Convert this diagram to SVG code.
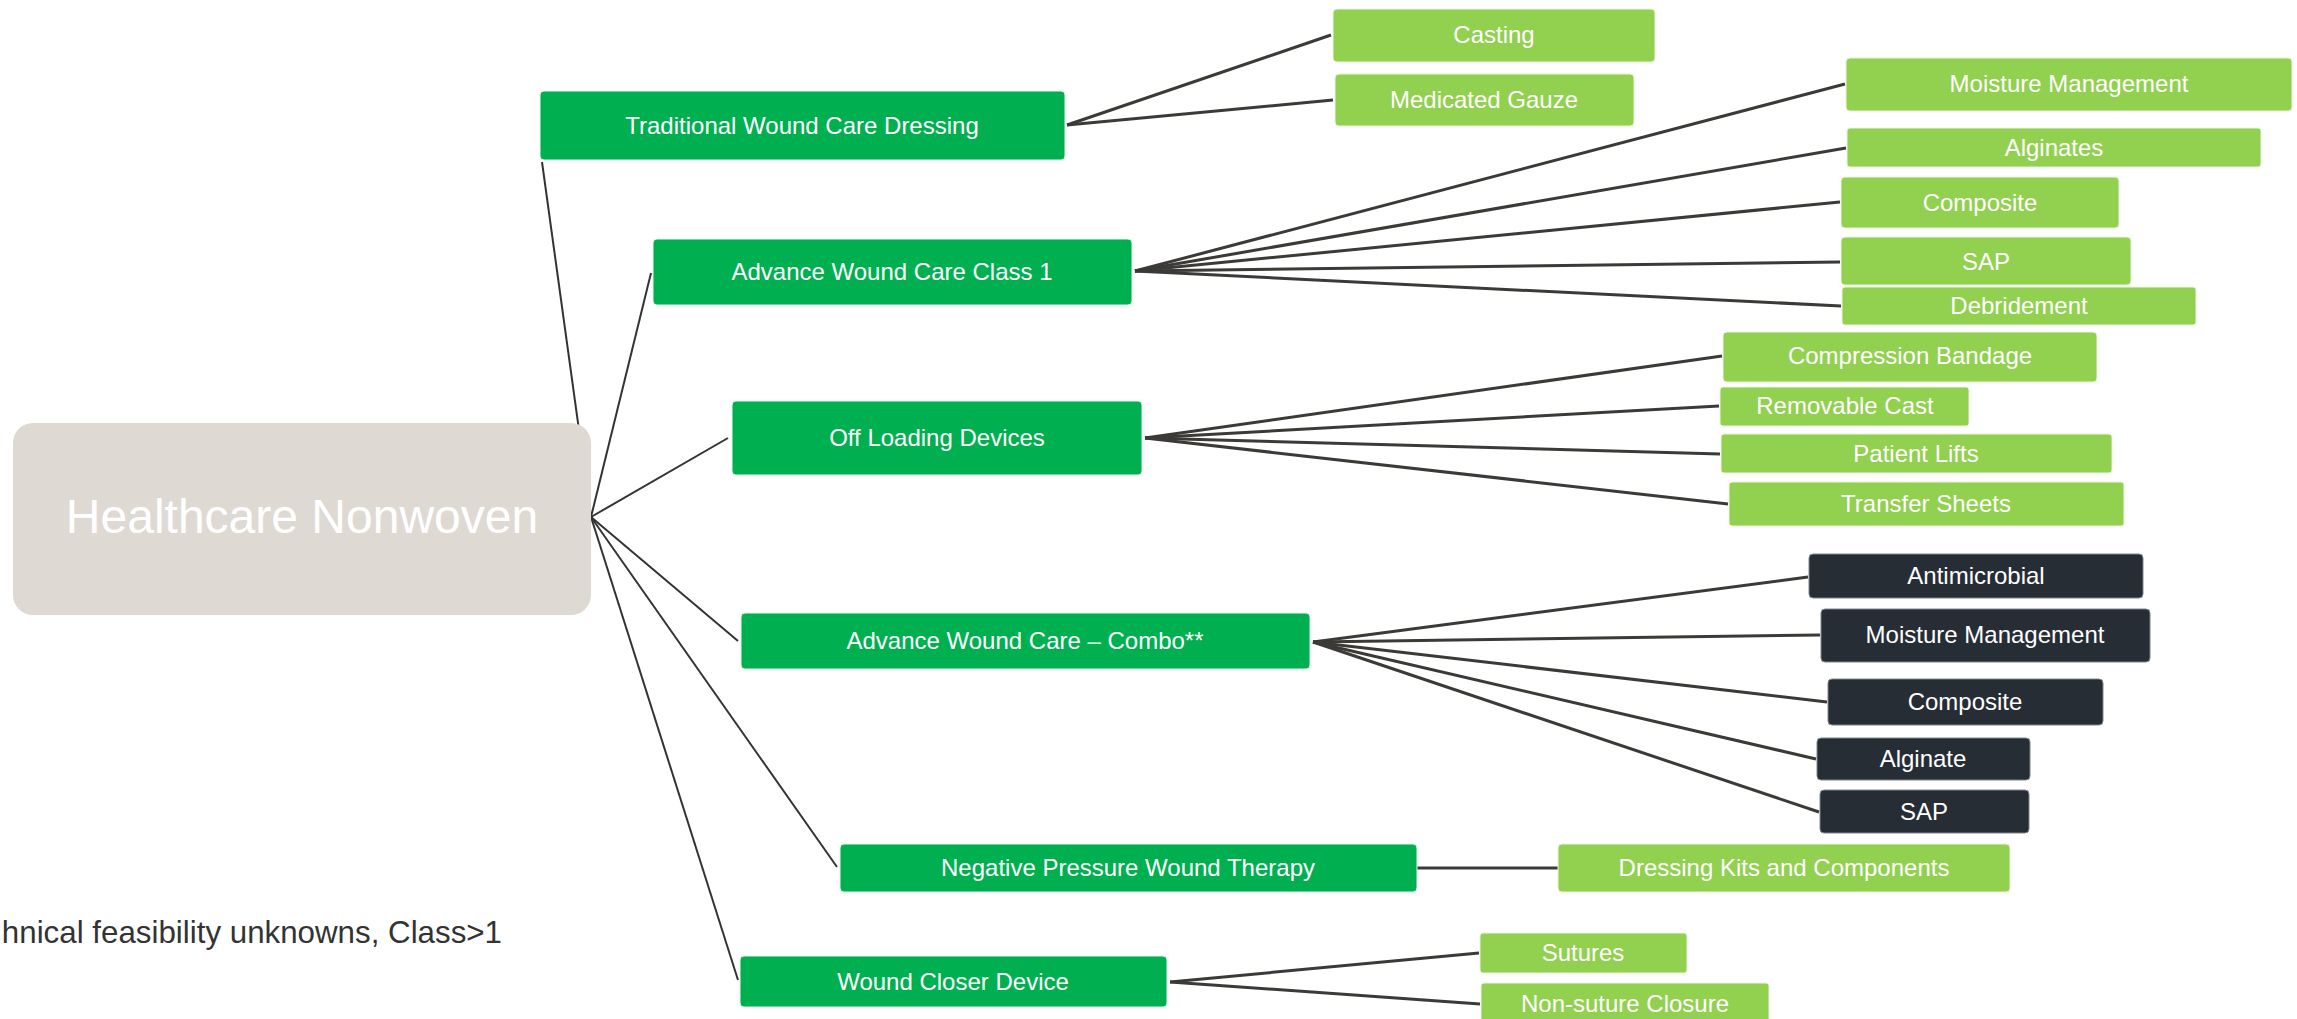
<svg xmlns="http://www.w3.org/2000/svg" width="2297" height="1019" viewBox="0 0 2297 1019">
<style>
.t{font-family:"Liberation Sans",Arial,sans-serif;font-size:24px;fill:#ffffff;text-anchor:middle}
.mid{fill:#00B050;stroke:#e6f5ea;stroke-width:1}
.leaf{fill:#92D050;stroke:#e9f5dc;stroke-width:1}
.dark{fill:#262D35;stroke:#80858b;stroke-width:1}
.c1{stroke:#333333;stroke-width:2;fill:none}
.c2{stroke:#3b3a36;stroke-width:3;fill:none}
</style>
<rect width="2297" height="1019" fill="#ffffff"/>
<g id="connectors">
<line class="c1" x1="591" y1="517" x2="542" y2="162"/>
<line class="c1" x1="591" y1="517" x2="651" y2="273"/>
<line class="c1" x1="591" y1="517" x2="728" y2="438"/>
<line class="c1" x1="591" y1="517" x2="738" y2="641"/>
<line class="c1" x1="591" y1="517" x2="837" y2="867"/>
<line class="c1" x1="591" y1="517" x2="738" y2="980"/>
<line class="c2" x1="1067" y1="125" x2="1331" y2="35"/>
<line class="c2" x1="1067" y1="125" x2="1333" y2="100"/>
<line class="c2" x1="1135" y1="271" x2="1845" y2="84"/>
<line class="c2" x1="1135" y1="271" x2="1846" y2="148"/>
<line class="c2" x1="1135" y1="271" x2="1840" y2="202"/>
<line class="c2" x1="1135" y1="271" x2="1840" y2="262"/>
<line class="c2" x1="1135" y1="271" x2="1841" y2="306"/>
<line class="c2" x1="1145" y1="438" x2="1722" y2="356"/>
<line class="c2" x1="1145" y1="438" x2="1719" y2="406"/>
<line class="c2" x1="1145" y1="438" x2="1720" y2="454"/>
<line class="c2" x1="1145" y1="438" x2="1728" y2="504"/>
<line class="c2" x1="1313" y1="642" x2="1808" y2="577"/>
<line class="c2" x1="1313" y1="642" x2="1820" y2="635"/>
<line class="c2" x1="1313" y1="642" x2="1827" y2="702"/>
<line class="c2" x1="1313" y1="642" x2="1816" y2="759"/>
<line class="c2" x1="1313" y1="642" x2="1819" y2="812"/>
<line class="c2" x1="1417" y1="868" x2="1558" y2="868"/>
<line class="c2" x1="1170" y1="982" x2="1479" y2="953"/>
<line class="c2" x1="1170" y1="982" x2="1480" y2="1004"/>
</g>
<g id="root">
<rect x="13" y="423" width="578" height="192" rx="20" fill="#DFD9D4"/>
<text x="302" y="533" font-family="Liberation Sans, Arial, sans-serif" font-size="48" fill="#ffffff" text-anchor="middle">Healthcare Nonwoven</text>
</g>
<g id="traditional"><rect class="mid" x="540" y="91" width="525" height="69" rx="4"/><text class="t" x="802" y="134">Traditional Wound Care Dressing</text></g>
<g id="awc1"><rect class="mid" x="653" y="239" width="479" height="66" rx="4"/><text class="t" x="892" y="280">Advance Wound Care Class 1</text></g>
<g id="offloading"><rect class="mid" x="732" y="401" width="410" height="74" rx="4"/><text class="t" x="937" y="446">Off Loading Devices</text></g>
<g id="combo"><rect class="mid" x="741" y="613" width="569" height="56" rx="4"/><text class="t" x="1025" y="649">Advance Wound Care – Combo**</text></g>
<g id="npwt"><rect class="mid" x="840" y="844" width="577" height="48" rx="4"/><text class="t" x="1128" y="876">Negative Pressure Wound Therapy</text></g>
<g id="wcd"><rect class="mid" x="740" y="956" width="427" height="51" rx="4"/><text class="t" x="953" y="990">Wound Closer Device</text></g>

<g id="casting"><rect class="leaf" x="1333" y="9" width="322" height="53" rx="4"/><text class="t" x="1494" y="43">Casting</text></g>
<g id="gauze"><rect class="leaf" x="1335" y="74" width="299" height="52" rx="4"/><text class="t" x="1484" y="108">Medicated Gauze</text></g>
<g id="moisture1"><rect class="leaf" x="1846" y="58" width="446" height="53" rx="4"/><text class="t" x="2069" y="92">Moisture Management</text></g>
<g id="alginates1"><rect class="leaf" x="1847" y="128" width="414" height="39" rx="3"/><text class="t" x="2054" y="156">Alginates</text></g>
<g id="composite1"><rect class="leaf" x="1841" y="177" width="278" height="51" rx="4"/><text class="t" x="1980" y="211">Composite</text></g>
<g id="sap1"><rect class="leaf" x="1841" y="237" width="290" height="48" rx="4"/><text class="t" x="1986" y="270">SAP</text></g>
<g id="debridement"><rect class="leaf" x="1842" y="287" width="354" height="38" rx="3"/><text class="t" x="2019" y="314">Debridement</text></g>
<g id="compression"><rect class="leaf" x="1723" y="332" width="374" height="50" rx="4"/><text class="t" x="1910" y="364">Compression Bandage</text></g>
<g id="removable"><rect class="leaf" x="1720" y="387" width="249" height="39" rx="3"/><text class="t" x="1845" y="414">Removable Cast</text></g>
<g id="lifts"><rect class="leaf" x="1721" y="434" width="391" height="39" rx="3"/><text class="t" x="1916" y="462">Patient Lifts</text></g>
<g id="sheets"><rect class="leaf" x="1729" y="482" width="395" height="44" rx="3"/><text class="t" x="1926" y="512">Transfer Sheets</text></g>
<g id="antimicrobial"><rect class="dark" x="1809" y="554" width="334" height="44" rx="4"/><text class="t" x="1976" y="584">Antimicrobial</text></g>
<g id="moisture2"><rect class="dark" x="1821" y="609" width="329" height="53" rx="4"/><text class="t" x="1985" y="643">Moisture Management</text></g>
<g id="composite2"><rect class="dark" x="1828" y="679" width="275" height="46" rx="4"/><text class="t" x="1965" y="710">Composite</text></g>
<g id="alginate2"><rect class="dark" x="1817" y="738" width="213" height="42" rx="4"/><text class="t" x="1923" y="767">Alginate</text></g>
<g id="sap2"><rect class="dark" x="1820" y="790" width="209" height="43" rx="4"/><text class="t" x="1924" y="820">SAP</text></g>
<g id="dressingkits"><rect class="leaf" x="1558" y="844" width="452" height="48" rx="4"/><text class="t" x="1784" y="876">Dressing Kits and Components</text></g>
<g id="sutures"><rect class="leaf" x="1480" y="933" width="207" height="40" rx="3"/><text class="t" x="1583" y="961">Sutures</text></g>
<g id="nonsuture"><rect class="leaf" x="1481" y="983" width="288" height="50" rx="3"/><text class="t" x="1625" y="1012">Non-suture Closure</text></g>

<text x="502" y="943" font-family="Liberation Sans, Arial, sans-serif" font-size="31.3" fill="#333333" text-anchor="end">hnical feasibility unknowns, Class&gt;1</text>
</svg>
